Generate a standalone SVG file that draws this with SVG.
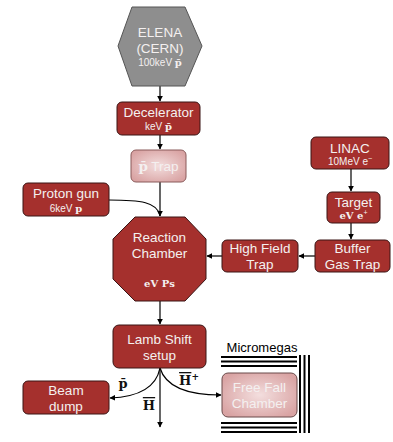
<svg xmlns="http://www.w3.org/2000/svg" width="393" height="442" viewBox="0 0 393 442">
<defs>
<style>
.box{fill:#a5302d;stroke:#3a1515;stroke-width:1}
.lt{fill:#f4f0f0;font-family:"Liberation Sans",Arial,sans-serif;font-size:13.5px;text-anchor:middle}
.st{fill:#f4f0f0;font-family:"Liberation Sans",Arial,sans-serif;font-size:10px;text-anchor:middle}
.sym{font-family:"DejaVu Serif","Liberation Serif",serif;font-weight:bold}
.ov{text-decoration:overline}
.ln{fill:none;stroke:#000;stroke-width:1.2}
.lbl{fill:#111;font-family:"DejaVu Serif","Liberation Serif",serif;font-weight:bold;font-size:13px;text-anchor:middle}
.mm{stroke:#000;stroke-width:2}
</style>
<radialGradient id="pink" cx="50%" cy="50%" r="60%">
<stop offset="0" stop-color="#f3dede"/>
<stop offset="1" stop-color="#d9a3a3"/>
</radialGradient>
<marker id="ah" viewBox="0 0 10 10" refX="9" refY="5" markerWidth="6" markerHeight="6" orient="auto" markerUnits="userSpaceOnUse">
<path d="M0,0 L10,5 L0,10 z" fill="#000"/>
</marker>
</defs>
<rect width="393" height="442" fill="#fff"/>

<g id="connectors">
<line class="ln" x1="160" y1="86" x2="160" y2="101" marker-end="url(#ah)"/>
<line class="ln" x1="160" y1="135" x2="160" y2="149" marker-end="url(#ah)"/>
<line class="ln" x1="160" y1="182" x2="160" y2="216" marker-end="url(#ah)"/>
<path class="ln" d="M109,200 C140,200 158,202 160,216"/>
<line class="ln" x1="351" y1="169" x2="351" y2="191" marker-end="url(#ah)"/>
<line class="ln" x1="351" y1="223" x2="351" y2="239" marker-end="url(#ah)"/>
<line class="ln" x1="315" y1="256" x2="299" y2="256" marker-end="url(#ah)"/>
<line class="ln" x1="222" y1="256" x2="207" y2="256" marker-end="url(#ah)"/>
<line class="ln" x1="160" y1="301" x2="160" y2="324" marker-end="url(#ah)"/>
<line class="ln" x1="160" y1="368" x2="160" y2="427" marker-end="url(#ah)"/>
<path class="ln" d="M160,368 C156,388 138,397 110,398" marker-end="url(#ah)"/>
<path class="ln" d="M160,368 C166,388 190,395 221,395" marker-end="url(#ah)"/>
</g>

<g id="labels">
<text class="lbl" x="123" y="388">p̄</text>
<text class="lbl" x="149" y="410"><tspan class="ov">H</tspan></text>
<text class="lbl" x="189" y="385"><tspan class="ov">H</tspan><tspan font-size="9" dy="-5">+</tspan></text>
</g>

<g id="elena">
<polygon points="132,7 185,7 202,46 185,86 132,86 118,46" fill="#8e8e8e" stroke="#555" stroke-width="1"/>
<text class="lt" x="160" y="37" fill="#eee">ELENA</text>
<text class="lt" x="160" y="53">(CERN)</text>
<text class="st" x="160" y="66">100keV <tspan class="sym">p̄</tspan></text>
</g>

<g id="decelerator">
<rect class="box" x="117" y="102" width="83" height="33" rx="5"/>
<text class="lt" x="158.5" y="117">Decelerator</text>
<text class="st" x="158.5" y="130">keV <tspan class="sym">p̄</tspan></text>
</g>

<g id="pbar-trap">
<rect x="131" y="150" width="55" height="32" rx="5" fill="url(#pink)" stroke="#8a5a5a" stroke-width="1"/>
<text class="lt" x="158.5" y="171"><tspan class="sym">p̄</tspan> Trap</text>
</g>

<g id="proton-gun">
<rect class="box" x="23" y="183" width="86" height="33" rx="5"/>
<text class="lt" x="66" y="198">Proton gun</text>
<text class="st" x="66" y="212">6keV <tspan class="sym">p</tspan></text>
</g>

<g id="linac">
<rect class="box" x="311" y="137" width="78" height="32" rx="5"/>
<text class="lt" x="350" y="153">LINAC</text>
<text class="st" x="350" y="165">10MeV e<tspan font-size="7" dy="-4">−</tspan></text>
</g>

<g id="target">
<rect class="box" x="327" y="192" width="53" height="31" rx="5"/>
<text class="lt" x="353.5" y="207">Target</text>
<text class="st" x="353.5" y="219"><tspan class="sym">eV e</tspan><tspan font-size="7" dy="-4">+</tspan></text>
</g>

<g id="buffer-gas-trap">
<rect class="box" x="315" y="240" width="75" height="32" rx="5"/>
<text class="lt" x="352.5" y="253">Buffer</text>
<text class="lt" x="352.5" y="269">Gas Trap</text>
</g>

<g id="high-field-trap">
<rect class="box" x="222" y="240" width="76" height="32" rx="5"/>
<text class="lt" x="260" y="253">High Field</text>
<text class="lt" x="260" y="269">Trap</text>
</g>

<g id="reaction-chamber">
<polygon points="135,217 185,217 206,239 206,279 185,301 135,301 113,279 113,239" fill="#a5302d" stroke="#3a1515" stroke-width="1"/>
<text class="lt" x="159.5" y="242">Reaction</text>
<text class="lt" x="159.5" y="258">Chamber</text>
<text class="st sym" x="159.5" y="287">eV Ps</text>
</g>

<g id="lamb-shift">
<rect class="box" x="113" y="325" width="93" height="43" rx="6"/>
<text class="lt" x="159.5" y="344">Lamb Shift</text>
<text class="lt" x="159.5" y="360">setup</text>
</g>

<g id="beam-dump">
<rect class="box" x="23" y="381" width="86" height="33" rx="5"/>
<text class="lt" x="66" y="395">Beam</text>
<text class="lt" x="66" y="411">dump</text>
</g>

<g id="free-fall-chamber">
<rect x="222" y="373" width="75" height="44" rx="6" fill="url(#pink)" stroke="#6a4a4a" stroke-width="1"/>
<text class="lt" x="259.5" y="392">Free Fall</text>
<text class="lt" x="259.5" y="408">Chamber</text>
</g>

<g id="micromegas">
<text x="262" y="352" fill="#000" font-family="'Liberation Sans',Arial,sans-serif" font-size="13" text-anchor="middle">Micromegas</text>
<line class="mm" x1="221" y1="357" x2="297" y2="357"/>
<line class="mm" x1="221" y1="361.5" x2="297" y2="361.5"/>
<line class="mm" x1="221" y1="366" x2="297" y2="366"/>
<line class="mm" x1="221" y1="423" x2="297" y2="423"/>
<line class="mm" x1="221" y1="427.5" x2="297" y2="427.5"/>
<line class="mm" x1="221" y1="432" x2="297" y2="432"/>
<line class="mm" x1="300" y1="355" x2="300" y2="433"/>
<line class="mm" x1="304.5" y1="355" x2="304.5" y2="433"/>
<line class="mm" x1="309" y1="355" x2="309" y2="433"/>
</g>
</svg>
